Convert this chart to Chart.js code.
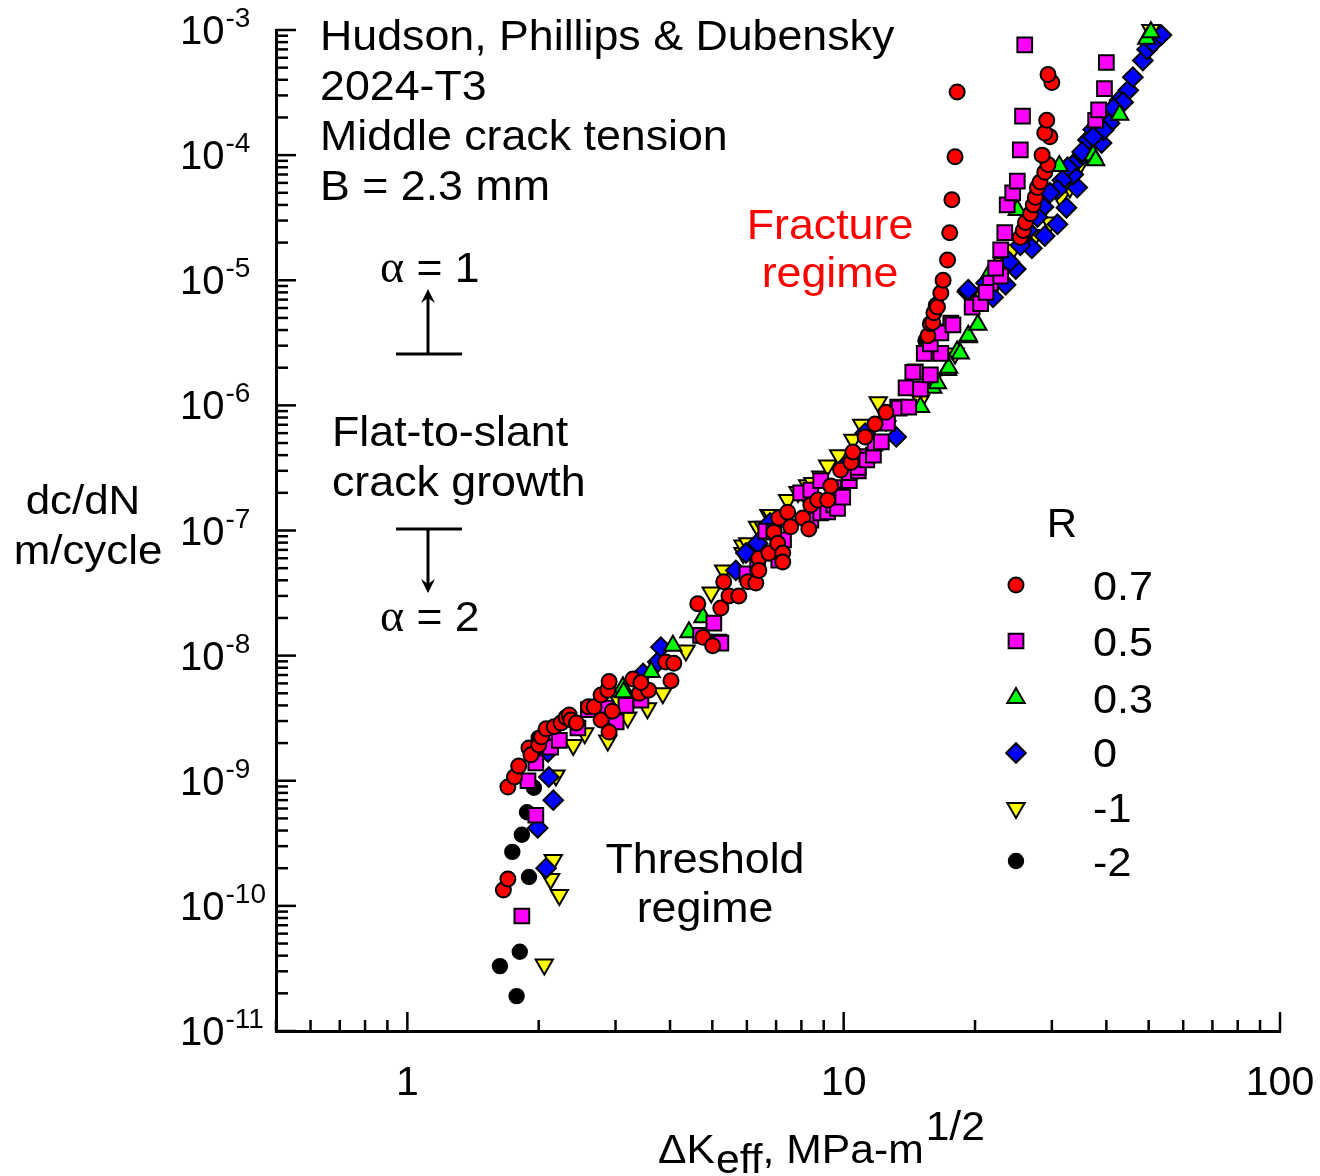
<!DOCTYPE html>
<html><head><meta charset="utf-8">
<script src="https://cdn.jsdelivr.net/npm/chart.js@4.4.1/dist/chart.umd.min.js"></script>
<style>html,body{margin:0;padding:0;background:#fff}#wrap{width:1320px;height:1176px}</style>
</head><body><div id="wrap"><canvas id="c" width="1320" height="1176"></canvas></div>
<script>
// ---- data (ΔKeff in MPa·m^1/2, dc/dN in m/cycle) ----
const seriesLabels = ['0.7','0.5','0.3','0','-1','-2'];

const r07K = [1.66,1.70,1.70,1.76,1.80,1.90,1.92,2.00,2.03,2.08,2.17,2.25,2.31,2.35,2.37,2.44,2.60,2.68,2.78,2.78,2.88,2.90,2.95,2.90,3.29,3.40,4.02,3.91,4.08,4.63,4.76,5.01,5.23,5.46,5.75,5.31,6.03,6.29,6.39,6.39,6.74,6.92,7.06,7.25,7.25,7.10,7.44,7.56,8.06,8.32,8.41,8.72,9.19,9.34,9.84,10.4,10.5,11.2,11.8,12.5,3.57,3.43,
  15.6,15.8,16.0,16.1,16.3,16.4,16.7,16.9,17.3,17.5,17.7,18.0,18.2,
  25.4,25.8,26.1,26.8,27.2,27.5,27.8,28.2,28.9,29.4,28.5,29.7,28.9,29.2,30.0,29.4];
const r07Rate = [1.34e-10,1.64e-10,8.9e-10,1.07e-9,1.31e-9,1.83e-9,1.61e-9,1.93e-9,2.24e-9,2.6e-9,2.7e-9,2.9e-9,3.2e-9,3.36e-9,3.06e-9,2.9e-9,3.9e-9,3.9e-9,4.85e-9,3.06e-9,5.3e-9,2.45e-9,3.6e-9,6.2e-9,6.5e-9,5.0e-9,6.3e-9,8.9e-9,8.7e-9,2.6e-8,1.4e-8,1.2e-8,2.4e-8,3.0e-8,3.0e-8,3.9e-8,3.9e-8,3.8e-8,6.0e-8,4.8e-8,6.6e-8,9.7e-8,7.9e-8,6.6e-8,5.6e-8,1.26e-7,1.4e-7,1.07e-7,1.26e-7,1.03e-7,1.6e-7,1.75e-7,1.75e-7,2.27e-7,3.04e-7,3.5e-7,4.24e-7,5.6e-7,7.1e-7,8.8e-7,5.3e-9,6.1e-9,
  3.6e-6,4.5e-6,4.6e-6,5.5e-6,6.3e-6,6.1e-6,7.9e-6,1.0e-5,1.45e-5,2.4e-5,4.4e-5,9.7e-5,3.2e-4,
  2.2e-5,2.5e-5,2.9e-5,3.4e-5,4.0e-5,4.6e-5,5.5e-5,6.1e-5,7.3e-5,8.4e-5,1.0e-4,1.4e-4,1.5e-4,1.9e-4,3.8e-4,4.4e-4];

const r05K = [1.83,1.97,1.89,1.97,2.10,2.13,2.23,2.46,2.60,2.85,3.01,3.17,3.43,4.70,5.04,5.18,5.23,6.00,6.35,6.63,6.82,6.92,7.10,7.28,7.97,8.41,8.41,8.86,8.86,9.19,9.49,9.49,9.68,9.68,9.95,10.3,10.3,10.8,10.8,11.2,11.3,11.7,11.8,12.2,12.6,13.3,13.4,14.1,13.9,15.0,14.6,15.8,15.6,16.7,16.4,17.6,19.7,15.3,15.8,16.7,17.8,14.4,21.7,22.9,22.3,22.9,23.4,23.7,24.4,25.0,25.4,25.7,26.0,37.8,38.4,39.6,40.0,20.6,21.2];
const r05Rate = [8.3e-11,5.3e-10,1.0e-9,1.39e-9,2.2e-9,1.86e-9,2.1e-9,2.64e-9,3.7e-9,3.8e-9,2.95e-9,4.0e-9,4.4e-9,1.45e-8,1.82e-8,1.28e-8,1.26e-8,4.5e-8,5.3e-8,9.9e-8,6.6e-8,9.7e-8,5.8e-8,8.4e-8,2.0e-7,1.21e-7,2.1e-7,1.38e-7,2.5e-7,1.41e-7,1.6e-7,2.2e-7,1.92e-7,1.5e-7,1.85e-7,2.5e-7,2.9e-7,3.0e-7,3.2e-7,3.9e-7,3.66e-7,4.0e-7,5.0e-7,5.1e-7,7.2e-7,9.7e-7,9.5e-7,9.7e-7,1.38e-6,1.35e-6,1.85e-6,1.75e-6,2.67e-6,2.6e-6,3.86e-6,4.55e-6,6.1e-6,2.6e-6,3.1e-6,3.8e-6,4.4e-6,1.84e-6,9.5e-6,1.08e-5,1.25e-5,1.75e-5,2.4e-5,4.0e-5,5.0e-5,6.2e-5,1.1e-4,2.05e-4,7.6e-4,1.9e-4,2.3e-4,3.4e-4,5.5e-4,6.5e-6,8.0e-6];

const r03K = [3.12,3.13,3.62,4.06,4.42,4.76,15.0,16.0,16.4,17.3,17.4,18.2,18.5,19.3,19.3,20.3,21.7,25.0,31.2,37.3,37.8,42.9,49.5,50.6];
const r03Rate = [5.6e-9,5.1e-9,7.4e-9,1.2e-8,1.54e-8,2.03e-8,9.7e-7,1.38e-6,1.5e-6,1.92e-6,2.0e-6,2.7e-6,2.6e-6,3.5e-6,3.6e-6,4.4e-6,1.17e-5,3.65e-5,8.2e-5,1.0e-4,9.1e-5,2.1e-4,8.5e-4,9.6e-4];

const r0K = [1.99,2.08,2.16,2.11,2.10,3.47,3.75,3.81,5.66,5.97,6.35,6.78,8.5,10.0,11.2,12.5,13.2,19.2,19.3,21.2,22.0,23.5,24.8,27.0,28.9,30.9,32.4,34.3,33.6,34.3,35.3,36.3,37.3,39.0,40.7,41.8,42.9,44.9,46.0,48.5,49.6,51.2,53.5,
  43.7,41.5,39.4,37.3,35.2,32.6,31.7,30.9,29.7,28.7,27.8,26.4,25.4,24.0];
const r0Rate = [4.2e-10,2.0e-10,7.0e-10,1.07e-9,1.7e-9,7.2e-9,8.9e-9,1.17e-8,4.8e-8,6.6e-8,7.9e-8,1.15e-7,1.7e-7,3.2e-7,6.0e-7,7.5e-7,5.6e-7,8.1e-6,8.4e-6,9.5e-6,7.3e-6,9.2e-6,1.23e-5,1.8e-5,2.26e-5,2.8e-5,3.8e-5,5.5e-5,7.0e-5,9.1e-5,1.0e-4,1.32e-4,1.6e-4,1.25e-4,1.8e-4,2.3e-4,2.75e-4,3.3e-4,4.2e-4,5.7e-4,7.0e-4,7.9e-4,9.1e-4,
  2.65e-4,2.37e-4,1.58e-4,1.4e-4,1.06e-4,8.0e-5,6.3e-5,5.3e-5,5.0e-5,3.85e-5,3.2e-5,2.5e-5,1.9e-5,1.4e-5];

const rm1K = [2.06,2.23,2.13,2.16,2.19,2.40,2.88,3.06,3.20,3.55,3.85,4.35,4.97,5.31,5.88,5.88,6.03,6.35,6.54,6.74,6.82,7.44,7.86,8.27,8.50,8.86,9.19,9.74,10.5,11.0,12.0,15.0,16.0,18.0,20.6,21.7,23.1,24.4,27.5,29.7,31.4,33.0,34.6,50.6,2.55];
const rm1Rate = [3.4e-11,1.22e-10,1.64e-10,2.33e-10,1.1e-9,1.93e-9,2.1e-9,4.3e-9,3.2e-9,3.8e-9,5.0e-9,1.1e-8,3.2e-8,4.8e-8,6.6e-8,7.6e-8,7.9e-8,1.07e-7,1.07e-7,1.33e-7,1.33e-7,1.75e-7,2.03e-7,2.3e-7,2.4e-7,2.7e-7,3.3e-7,4.0e-7,5.3e-7,7.0e-7,1.06e-6,1.1e-6,1.6e-6,2.6e-6,7.9e-6,9.5e-6,1.37e-5,1.75e-5,2.3e-5,2.9e-5,4.6e-5,5.5e-5,8.1e-5,1.0e-3,2.4e-9];

const rm2K = [1.63,1.81,1.78,1.90,1.74,1.83,1.88,1.95,2.00,15.4];
const rm2Rate = [3.3e-11,4.3e-11,1.9e-11,1.7e-10,2.7e-10,3.7e-10,5.6e-10,8.8e-10,2.2e-9,3.3e-6];

const xMajorTicks = [1, 10, 100];
const xTickLabels = ['1', '10', '100'];
const yExponents = [-3, -4, -5, -6, -7, -8, -9, -10, -11];

// ---- styles ----
const SANS = '"Liberation Sans", Arial, Helvetica, sans-serif';
const SERIF = '"Liberation Serif", "Times New Roman", serif';
const styles = [
  {fill:'#ff0000', pointStyle:'circle',   radius:7.5, rotation:0},
  {fill:'#ff00ff', pointStyle:'rect',     radius:10.4, rotation:0},
  {fill:'#00ff00', pointStyle:'triangle', radius:10, rotation:0},
  {fill:'#0000ff', pointStyle:'rectRot',  radius:9.8, rotation:0},
  {fill:'#ffff00', pointStyle:'triangle', radius:10, rotation:180},
  {fill:'#000000', pointStyle:'circle',   radius:7.2, rotation:0}
];
const allK = [r07K, r05K, r03K, r0K, rm1K, rm2K];
const allRate = [r07Rate, r05Rate, r03Rate, r0Rate, rm1Rate, rm2Rate];

const datasets = seriesLabels.map((lab, i) => ({
  label: lab,
  data: allK[i].map((k, j) => ({x: k, y: allRate[i][j]})),
  pointStyle: styles[i].pointStyle,
  pointRadius: styles[i].radius,
  pointRotation: styles[i].rotation,
  pointBackgroundColor: styles[i].fill,
  pointBorderColor: '#000',
  pointBorderWidth: 2,
  showLine: false,
  clip: false
}));

function line(ctx, x1, y1, x2, y2) { ctx.beginPath(); ctx.moveTo(x1, y1); ctx.lineTo(x2, y2); ctx.stroke(); }
// draws text with optional horizontal stretch sx; returns drawn width
function text(ctx, s, x, y, size, align, color, sx, fam) {
  sx = sx || 1;
  ctx.save();
  ctx.font = size + 'px ' + (fam || SANS);
  ctx.fillStyle = color || '#000';
  ctx.textAlign = align || 'left';
  ctx.textBaseline = 'alphabetic';
  ctx.translate(x, y);
  ctx.scale(sx, 1);
  ctx.fillText(s, 0, 0);
  const w = ctx.measureText(s).width * sx;
  ctx.restore();
  return w;
}
function arrowHead(ctx, x, y, dir) { // dir -1 up, +1 down
  ctx.beginPath();
  ctx.moveTo(x, y);
  ctx.lineTo(x - 7, y - dir * 14);
  ctx.lineTo(x, y - dir * 9);
  ctx.lineTo(x + 7, y - dir * 14);
  ctx.closePath();
  ctx.fill();
}

const decor = {
  id: 'decor',
  afterDraw(chart) {
    const ctx = chart.ctx, xs = chart.scales.x, ys = chart.scales.y, ca = chart.chartArea;
    ctx.save();
    ctx.strokeStyle = '#000'; ctx.fillStyle = '#000'; ctx.lineWidth = 2.5; ctx.lineCap = 'butt';
    // y ticks (inward) + labels
    yExponents.forEach(e => {
      for (let m = 1; m < 10; m++) {
        const v = m * Math.pow(10, e);
        if (v > ys.max * 1.0001) break;
        const py = ys.getPixelForValue(v);
        line(ctx, ca.left, py, ca.left + (m === 1 ? 20 : 12), py);
      }
      const py = ys.getPixelForValue(Math.pow(10, e));
      const w = text(ctx, '10', 180, py + 14, 40);
      text(ctx, String(e), 180 + w + 1, py - 3, 28);
    });
    // x ticks (inward) + labels
    for (let d = -1; d <= 2; d++) {
      for (let m = 1; m < 10; m++) {
        const v = m * Math.pow(10, d);
        if (v < xs.min * 0.9999 || v > xs.max * 1.0001) continue;
        const px = xs.getPixelForValue(v);
        line(ctx, px, ca.bottom, px, ca.bottom - (m === 1 ? 19 : 11));
      }
    }
    xMajorTicks.forEach((v, i) => text(ctx, xTickLabels[i], xs.getPixelForValue(v), 1095, 41, 'center'));

    // axis titles
    let x = 658;
    x += text(ctx, '\u0394K', x, 1163, 41, 'left', '#000', 1.04);
    x += text(ctx, 'eff', x + 1, 1173, 41, 'left', '#000', 1.04) + 1;
    x += text(ctx, ', MPa-m', x, 1163, 41, 'left', '#000', 1.04);
    text(ctx, '1/2', x + 2, 1140, 41, 'left', '#000', 1.04);
    text(ctx, 'dc/dN', 83, 514, 41, 'center', '#000', 1.07);
    text(ctx, 'm/cycle', 88, 564, 41, 'center', '#000', 1.07);

    // annotations
    const S = 1.065;
    text(ctx, 'Hudson, Phillips & Dubensky', 320, 50, 42, 'left', '#000', S);
    text(ctx, '2024-T3', 320, 100, 42, 'left', '#000', S);
    text(ctx, 'Middle crack tension', 320, 150, 42, 'left', '#000', S);
    text(ctx, 'B = 2.3 mm', 320, 200, 42, 'left', '#000', S);
    text(ctx, 'Fracture', 830, 239, 42, 'center', '#ff0000', S);
    text(ctx, 'regime', 830, 287, 42, 'center', '#ff0000', S);
    text(ctx, 'Flat-to-slant', 332, 446, 42, 'left', '#000', S);
    text(ctx, 'crack growth', 332, 496, 42, 'left', '#000', S);
    text(ctx, 'Threshold', 705, 873, 42, 'center', '#000', S);
    text(ctx, 'regime', 705, 922, 42, 'center', '#000', S);
    // alpha labels
    let ax = 380;
    ax += text(ctx, '\u03b1', ax, 282, 46, 'left', '#000', 1, SERIF);
    text(ctx, ' = 1', ax, 282, 42, 'left', '#000', 1.06);
    ax = 380;
    ax += text(ctx, '\u03b1', ax, 631, 46, 'left', '#000', 1, SERIF);
    text(ctx, ' = 2', ax, 631, 42, 'left', '#000', 1.06);
    // arrows
    ctx.lineWidth = 3;
    line(ctx, 396, 354, 462, 354);
    line(ctx, 428, 354, 428, 296);
    arrowHead(ctx, 428, 289, -1);
    line(ctx, 396, 529, 462, 529);
    line(ctx, 428, 529, 428, 586);
    arrowHead(ctx, 428, 593, 1);

    // legend
    text(ctx, 'R', 1062, 537, 40, 'center', '#000', 1.05);
    const ly = [585, 641, 698, 753, 808, 861];
    const lb = [600, 656, 713, 767, 822, 876];
    seriesLabels.forEach((lab, i) => {
      ctx.fillStyle = styles[i].fill; ctx.strokeStyle = '#000'; ctx.lineWidth = 2;
      Chart.helpers.drawPoint(ctx, {pointStyle: styles[i].pointStyle, radius: styles[i].radius, rotation: styles[i].rotation, borderWidth: 2}, 1016, ly[i]);
      text(ctx, lab, 1093, lb[i], 40, 'left', '#000', 1.08);
    });
    ctx.restore();
  }
};

new Chart(document.getElementById('c'), {
  type: 'scatter',
  data: { datasets },
  options: {
    responsive: false,
    devicePixelRatio: 1,
    animation: false,
    events: [],
    layout: { padding: { left: 276, right: 40, top: 30, bottom: 145 } },
    plugins: { legend: { display: false }, tooltip: { enabled: false } },
    scales: {
      x: { type: 'logarithmic', min: 0.5, max: 100,
           grid: { display: false, drawTicks: false },
           border: { display: true, color: '#000', width: 3 },
           ticks: { display: false } },
      y: { type: 'logarithmic', min: 1e-11, max: 1e-3,
           grid: { display: false, drawTicks: false },
           border: { display: true, color: '#000', width: 3 },
           ticks: { display: false } }
    }
  },
  plugins: [decor]
});
</script>
</body></html>
